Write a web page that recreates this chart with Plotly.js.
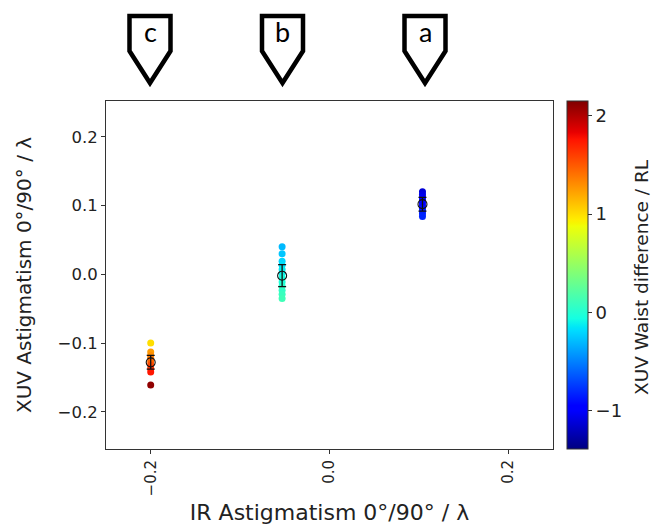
<!DOCTYPE html>
<html><head><meta charset="utf-8">
<script src="https://cdn.plot.ly/plotly-3.0.1.min.js"></script>
<style>html,body{margin:0;padding:0;background:#fff}</style>
</head><body>
<div id="chart" style="width:663px;height:525px"></div>
<script>
// ---- data ----
const irC = [-0.2, -0.2, -0.2, -0.2, -0.2, -0.2, -0.2, -0.2, -0.2];
const xuvC = [-0.100, -0.113, -0.118, -0.122, -0.127, -0.132, -0.137, -0.142, -0.161];
const waistC = [1.00, 1.25, 1.30, 1.38, 1.45, 1.55, 1.65, 1.75, 2.10];

const irB = [-0.053, -0.053, -0.053, -0.053, -0.053, -0.053, -0.053, -0.053, -0.053, -0.053, -0.053, -0.053];
const xuvB = [0.040, 0.030, 0.019, 0.013, 0.007, 0.001, -0.005, -0.011, -0.017, -0.023, -0.029, -0.035];
const waistB = [-0.30, -0.26, -0.20, -0.17, -0.13, -0.10, -0.06, -0.02, 0.02, 0.06, 0.09, 0.12];

const irA = [0.104, 0.104, 0.104, 0.104, 0.104, 0.104, 0.104, 0.104, 0.104, 0.104];
const xuvA = [0.120, 0.116, 0.112, 0.108, 0.104, 0.100, 0.096, 0.092, 0.088, 0.084];
const waistA = [-1.12, -1.08, -1.04, -1.00, -0.97, -0.94, -0.90, -0.87, -0.84, -0.82];

const meanIR = [-0.2, -0.053, 0.104];
const meanXUV = [-0.128, -0.002, 0.102];
const errXUV = [0.010, 0.016, 0.010];

const groupLabels = ['c', 'b', 'a'];
const xTicks = [-0.2, 0.0, 0.2];
const yTicks = [-0.2, -0.1, 0.0, 0.1, 0.2];
const cbTicks = [-1, 0, 1, 2];
const cbTitle = 'XUV Waist difference / RL';

// matplotlib "jet"
const jet = [
  [0, 'rgb(0,0,128)'], [0.11, 'rgb(0,0,255)'], [0.125, 'rgb(0,0,255)'],
  [0.34, 'rgb(0,219,255)'], [0.35, 'rgb(0,230,247)'], [0.375, 'rgb(21,255,226)'],
  [0.64, 'rgb(239,255,8)'], [0.65, 'rgb(247,245,0)'], [0.66, 'rgb(255,236,0)'],
  [0.89, 'rgb(255,19,0)'], [0.91, 'rgb(232,0,0)'], [1, 'rgb(128,0,0)']
];

// ---- layout helpers ----
const W = 663, H = 525, M = {l: 106, r: 110, t: 101, b: 76};
const pw = W - M.l - M.r, ph = H - M.t - M.b;
const px = x => (x - M.l) / pw;
const py = y => (H - M.b - y) / ph;

const scatter = {
  type: 'scatter', mode: 'markers',
  x: irC.concat(irB, irA),
  y: xuvC.concat(xuvB, xuvA),
  marker: {
    size: 7, color: waistC.concat(waistB, waistA),
    colorscale: jet, cmin: -1.39, cmax: 2.15, showscale: true,
    line: {width: 0},
    colorbar: {
      x: px(567), xanchor: 'left', xpad: 0, ypad: 0,
      y: 0.5, yanchor: 'middle', len: 1, lenmode: 'fraction',
      thickness: 21, outlinewidth: 1, outlinecolor: '#333',
      tickvals: cbTicks, ticks: 'outside', ticklen: 4, tickcolor: '#333',
      tickfont: {family: 'DejaVu Sans', size: 18, color: '#222'}
    }
  },
  showlegend: false, hoverinfo: 'x+y'
};

const means = {
  type: 'scatter', mode: 'markers',
  x: meanIR, y: meanXUV,
  error_y: {type: 'data', array: errXUV, visible: true, color: '#111', thickness: 1.3, width: 4},
  marker: {symbol: 'circle-open', size: 9, color: '#111', line: {width: 1.1, color: '#111'}},
  showlegend: false
};

// pentagon markers above the plot
const pentX = [150, 282.5, 425];
const shapes = [], annotations = [];
pentX.forEach((cx, i) => {
  const hw = 20.5, top = 16, sh = 51, tip = 83;
  const pts = [[cx - hw, top], [cx + hw, top], [cx + hw, sh], [cx, tip], [cx - hw, sh]];
  const path = 'M ' + pts.map(p => px(p[0]).toFixed(5) + ',' + py(p[1]).toFixed(5)).join(' L ') + ' Z';
  shapes.push({type: 'path', xref: 'paper', yref: 'paper', path: path,
               line: {color: '#000', width: 4.5}, fillcolor: 'rgba(0,0,0,0)', layer: 'above'});
  annotations.push({xref: 'paper', yref: 'paper', x: px(cx), y: py(31), text: groupLabels[i],
                    showarrow: false, xanchor: 'center', yanchor: 'middle',
                    font: {family: 'Lato', size: 27, color: '#000'}});
});
// colorbar title
annotations.push({xref: 'paper', yref: 'paper', x: px(641), y: py(277), text: cbTitle,
                  textangle: -90, showarrow: false, xanchor: 'center', yanchor: 'middle',
                  font: {family: 'DejaVu Sans', size: 18.5, color: '#222'}});

const layout = {
  width: W, height: H, margin: M,
  paper_bgcolor: '#fff', plot_bgcolor: '#fff',
  xaxis: {
    range: [-0.25, 0.25], tickvals: xTicks, tickformat: '.1f', tickangle: -90,
    ticks: 'outside', ticklen: 4, tickcolor: '#333', tickfont: {family: 'DejaVu Sans', size: 15, color: '#222'},
    showgrid: false, zeroline: false, showline: true, mirror: true, linecolor: '#333', linewidth: 1,
    title: {text: 'IR Astigmatism 0°/90° / λ', font: {family: 'DejaVu Sans', size: 22, color: '#222'}, standoff: 12}
  },
  yaxis: {
    range: [-0.254, 0.252], tickvals: yTicks, tickformat: '.1f',
    ticks: 'outside', ticklen: 4, tickcolor: '#333', tickfont: {family: 'DejaVu Sans', size: 16.5, color: '#222'},
    showgrid: false, zeroline: false, showline: true, mirror: true, linecolor: '#333', linewidth: 1,
    title: {text: 'XUV Astigmatism 0°/90° / λ', font: {family: 'DejaVu Sans', size: 20, color: '#222'}, standoff: 20}
  },
  shapes: shapes, annotations: annotations
};

Plotly.newPlot('chart', [scatter, means], layout, {displayModeBar: false, staticPlot: true});
</script>
</body></html>
